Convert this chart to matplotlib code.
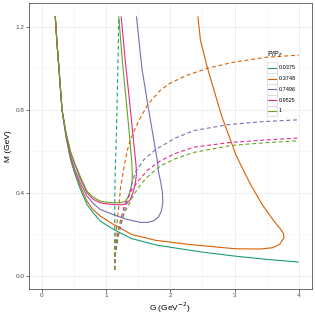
import matplotlib
matplotlib.use("Agg")
import matplotlib.pyplot as plt
from matplotlib.lines import Line2D
from matplotlib.patches import Rectangle

plt.rcParams["font.family"] = ["Liberation Sans", "DejaVu Sans"]

# legend values and Dark2 colours
p_labels = ["0.0375", "0.3748", "0.7496", "0.9525", "1"]
colors = ["#1B9E77", "#D95F02", "#7570B3", "#E7298A", "#66A61E"]

# solid branches (G in GeV^-2, M in GeV)
g_solid_1 = [0.213, 0.24, 0.27, 0.318, 0.38, 0.45, 0.52, 0.6, 0.707, 0.8, 0.914,
             1.12, 1.4, 1.8, 2.16, 2.5, 3.0, 3.5, 4.0]
m_solid_1 = [1.25, 1.12, 1.0, 0.8, 0.67, 0.56, 0.49, 0.42, 0.344, 0.305, 0.264,
             0.224, 0.18, 0.148, 0.131, 0.115, 0.096, 0.08, 0.067]

g_solid_2 = [0.213, 0.24, 0.27, 0.318, 0.38, 0.45, 0.52, 0.6, 0.707, 0.8, 0.914,
             1.12, 1.4, 1.77, 2.29, 2.7, 3.02, 3.4, 3.59, 3.7, 3.77, 3.76, 3.72,
             3.6, 3.43, 3.25, 3.12, 3.02, 2.8, 2.58, 2.47, 2.43]
m_solid_2 = [1.25, 1.12, 1.0, 0.8, 0.675, 0.57, 0.50, 0.435, 0.36, 0.32, 0.288,
             0.248, 0.2, 0.172, 0.152, 0.14, 0.131, 0.13, 0.136, 0.152, 0.184, 0.205,
             0.224, 0.27, 0.344, 0.44, 0.52, 0.584, 0.77, 1.0, 1.135, 1.25]

g_solid_3 = [0.213, 0.24, 0.27, 0.318, 0.38, 0.45, 0.52, 0.6, 0.707, 0.8, 0.914,
             1.12, 1.3, 1.537, 1.65, 1.745, 1.82, 1.86, 1.885, 1.88, 1.855, 1.82,
             1.797, 1.72, 1.64, 1.56, 1.475]
m_solid_3 = [1.25, 1.12, 1.0, 0.8, 0.68, 0.58, 0.51, 0.45, 0.384, 0.35, 0.32,
             0.295, 0.275, 0.258, 0.258, 0.266, 0.285, 0.31, 0.35, 0.40, 0.448, 0.5,
             0.56, 0.7, 0.847, 1.0, 1.25]

g_solid_4 = [0.213, 0.24, 0.27, 0.318, 0.38, 0.45, 0.52, 0.6, 0.707, 0.8, 0.914,
             1.05, 1.15, 1.25, 1.32, 1.38, 1.43, 1.46, 1.475, 1.47, 1.46, 1.414,
             1.366, 1.30, 1.237]
m_solid_4 = [1.25, 1.12, 1.0, 0.8, 0.685, 0.595, 0.535, 0.47, 0.40, 0.37, 0.352,
             0.346, 0.343, 0.343, 0.348, 0.368, 0.41, 0.45, 0.49, 0.53, 0.56, 0.7,
             0.847, 1.04, 1.25]

g_solid_5 = [0.213, 0.24, 0.27, 0.318, 0.38, 0.45, 0.52, 0.6, 0.707, 0.8, 0.914,
             1.05, 1.15, 1.24, 1.30, 1.35, 1.39, 1.408, 1.41, 1.40, 1.36, 1.315,
             1.26, 1.20]
m_solid_5 = [1.25, 1.12, 1.0, 0.8, 0.69, 0.6, 0.54, 0.48, 0.408, 0.38, 0.36,
             0.354, 0.352, 0.353, 0.36, 0.38, 0.42, 0.46, 0.50, 0.56, 0.7, 0.847,
             1.02, 1.25]

# dashed branches
g_dash_1 = [1.137, 1.137, 1.138, 1.14, 1.145, 1.155, 1.165, 1.175, 1.19, 1.20]
m_dash_1 = [0.03, 0.15, 0.3, 0.4, 0.5, 0.6, 0.7, 0.85, 1.05, 1.25]

g_dash_2 = [1.137, 1.14, 1.15, 1.17, 1.2, 1.23, 1.28, 1.33, 1.38, 1.5, 1.65, 1.85,
            2.0, 2.25, 2.58, 3.0, 3.5, 4.0]
m_dash_2 = [0.03, 0.1, 0.17, 0.25, 0.33, 0.43, 0.52, 0.6, 0.656, 0.74, 0.825, 0.895,
            0.928, 0.965, 1.0, 1.03, 1.053, 1.063]

g_dash_3 = [1.137, 1.14, 1.16, 1.2, 1.28, 1.34, 1.41, 1.46, 1.59, 1.77, 2.08, 2.37,
            2.89, 3.4, 4.0]
m_dash_3 = [0.03, 0.08, 0.13, 0.2, 0.304, 0.37, 0.45, 0.5, 0.56, 0.608, 0.664, 0.70,
            0.728, 0.742, 0.752]

g_dash_4 = [1.137, 1.14, 1.16, 1.2, 1.28, 1.38, 1.51, 1.65, 1.85, 2.08, 2.37, 2.94,
            3.5, 4.0]
m_dash_4 = [0.03, 0.08, 0.15, 0.235, 0.33, 0.405, 0.46, 0.51, 0.555, 0.59, 0.62,
            0.643, 0.655, 0.664]

g_dash_5 = [1.137, 1.14, 1.16, 1.2, 1.3, 1.43, 1.564, 1.69, 1.85, 2.08, 2.37, 2.94,
            3.5, 4.0]
m_dash_5 = [0.03, 0.08, 0.15, 0.23, 0.31, 0.39, 0.45, 0.49, 0.53, 0.565, 0.595,
            0.628, 0.642, 0.651]

solid = [(g_solid_1, m_solid_1), (g_solid_2, m_solid_2), (g_solid_3, m_solid_3),
         (g_solid_4, m_solid_4), (g_solid_5, m_solid_5)]
dashed = [(g_dash_1, m_dash_1), (g_dash_2, m_dash_2), (g_dash_3, m_dash_3),
          (g_dash_4, m_dash_4), (g_dash_5, m_dash_5)]

x_ticks = [0, 1, 2, 3, 4]
y_ticks = [0.0, 0.4, 0.8, 1.2]

W = H = 315.0
fig = plt.figure(figsize=(3.15, 3.15), dpi=100)
ax = fig.add_axes([28.7 / W, 1 - 289 / H, 283 / W, 285.7 / H])

for (g, m), c in zip(solid, colors):
    ax.plot(g, m, color=c, lw=0.8, solid_capstyle="butt")
for (g, m), c in zip(dashed, colors):
    ax.plot(g, m, color=c, lw=0.8, dashes=(3.5, 2.5))

ax.set_xlim(-0.2, 4.2)
ax.set_ylim(-0.0625, 1.3125)
ax.set_xticks(x_ticks)
ax.set_xticklabels([str(t) for t in x_ticks])
ax.set_yticks(y_ticks)
ax.set_yticklabels([f"{t:.1f}" for t in y_ticks])
ax.set_xticks([0.5, 1.5, 2.5, 3.5], minor=True)
ax.set_yticks([0.2, 0.6, 1.0], minor=True)
ax.grid(which="major", color="#EBEBEB", lw=0.6)
ax.grid(which="minor", color="#F4F4F4", lw=0.4)
ax.set_axisbelow(True)
ax.tick_params(which="major", length=2.0, width=0.5, color="#333333",
               labelsize=4.6, labelcolor="#4D4D4D", pad=1.2)
ax.tick_params(which="minor", length=0)
for s in ax.spines.values():
    s.set_color("#333333")
    s.set_linewidth(0.5)

ax.set_xlabel("G (GeV$^{-2}$)", fontsize=6)
ax.xaxis.set_label_coords(0.5, -0.042)
ax.set_ylabel("M (GeV)", fontsize=6)
ax.yaxis.set_label_coords(-0.06, 0.5)

# legend drawn by hand: white key boxes with grey borders, no background
key_x0, key_w, row_h = 266.5, 10.8, 10.8
row0 = 67.7
fig.text(267 / W, 1 - 55 / H, "P/P$_F$", fontsize=5, ha="left", va="center")
for i, (c, lab) in enumerate(zip(colors, p_labels)):
    yc = row0 + i * row_h
    fig.add_artist(Rectangle((key_x0 / W, 1 - (yc + row_h / 2) / H), key_w / W, row_h / H,
                             transform=fig.transFigure, facecolor="white",
                             edgecolor="#CCCCCC", lw=0.4))
    fig.add_artist(Line2D([(key_x0 + 1.2) / W, (key_x0 + key_w - 1.2) / W],
                          [1 - yc / H, 1 - yc / H], transform=fig.transFigure,
                          color=c, lw=0.8))
    fig.text((key_x0 + key_w + 1.5) / W, 1 - yc / H, lab, fontsize=4,
             ha="left", va="center")

fig.savefig("out.png", dpi=100)
